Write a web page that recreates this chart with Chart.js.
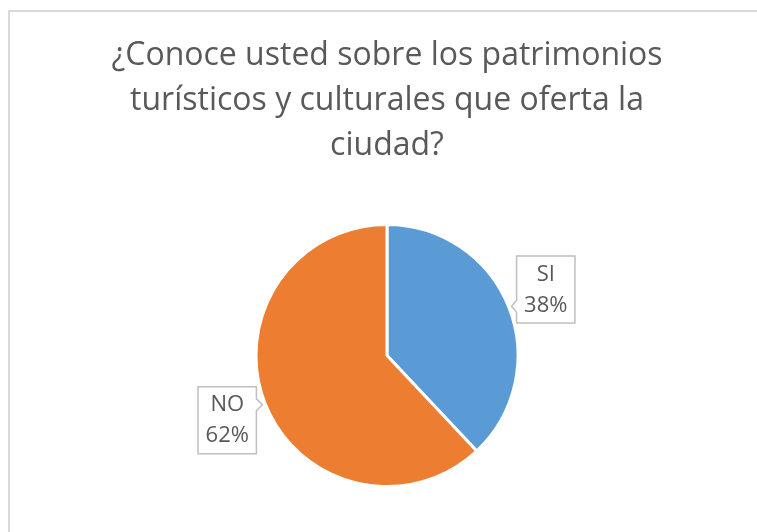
<!DOCTYPE html>
<html>
<head>
<meta charset="utf-8">
<script src="https://cdn.jsdelivr.net/npm/chart.js@4/dist/chart.umd.min.js"></script>
<style>
  html, body { margin: 0; padding: 0; background: #fff; overflow: hidden; }
  #frame {
    position: absolute; left: 8px; top: 10px;
    width: 800px; height: 600px;
    border-left: 2px solid #d9d9d9; border-top: 2px solid #d9d9d9;
  }
  #chart { display: block; }
</style>
</head>
<body>
<div id="frame"><canvas id="chart" width="754" height="520"></canvas></div>
<script>
// chart data
const titleLines = ['¿Conoce usted sobre los patrimonios', 'turísticos y culturales que oferta la', 'ciudad?'];
const categories = ['SI', 'NO'];
const values = [38, 62];
const sliceColors = ['#5B9BD5', '#ED7D31'];

const textGray = '#595959';
const labelFont = '22px "Open Sans"';

// Excel-like callout boxes next to each slice
const calloutPlugin = {
  id: 'callouts',
  afterDatasetsDraw(chart) {
    const ctx = chart.ctx;
    const meta = chart.getDatasetMeta(0);
    const total = values.reduce((a, b) => a + b, 0);
    ctx.save();
    ctx.font = labelFont;
    meta.data.forEach((arc, i) => {
      const p = arc.getProps(['x', 'y', 'startAngle', 'endAngle', 'outerRadius'], true);
      const mid = (p.startAngle + p.endAngle) / 2;
      const tipX = p.x + (p.outerRadius + 3) * Math.cos(mid);
      const tipY = p.y + (p.outerRadius + 3) * Math.sin(mid);
      const lines = [categories[i], Math.round(values[i] / total * 100) + '%'];
      const lineH = 31;
      const w = Math.max(...lines.map(t => ctx.measureText(t).width)) + 15;
      const h = lines.length * lineH + 5;
      const right = Math.cos(mid) >= 0;
      const left = right ? tipX + 5 : tipX - 6 - w;
      const top = right ? tipY - 0.75 * h : tipY - 0.27 * h;
      const edgeX = right ? left : left + w;
      const nb = 6; // notch half height

      ctx.beginPath();
      ctx.moveTo(left, top);
      ctx.lineTo(left + w, top);
      if (!right) {
        ctx.lineTo(edgeX, tipY - nb);
        ctx.lineTo(tipX, tipY);
        ctx.lineTo(edgeX, tipY + nb);
      }
      ctx.lineTo(left + w, top + h);
      ctx.lineTo(left, top + h);
      if (right) {
        ctx.lineTo(edgeX, tipY + nb);
        ctx.lineTo(tipX, tipY);
        ctx.lineTo(edgeX, tipY - nb);
      }
      ctx.closePath();
      ctx.fillStyle = '#ffffff';
      ctx.fill();
      ctx.lineWidth = 1.5;
      ctx.strokeStyle = '#bfbfbf';
      ctx.stroke();

      ctx.fillStyle = textGray;
      ctx.textAlign = 'center';
      ctx.textBaseline = 'middle';
      lines.forEach((t, j) => {
        ctx.fillText(t, left + w / 2, top + 3 + lineH / 2 + j * lineH);
      });
    });
    ctx.restore();
  }
};

new Chart(document.getElementById('chart'), {
  type: 'pie',
  data: {
    labels: categories,
    datasets: [{
      data: values,
      backgroundColor: sliceColors,
      borderColor: '#ffffff',
      borderWidth: 3
    }]
  },
  options: {
    responsive: false,
    animation: false,
    layout: { padding: { left: 0, right: 0, top: 0, bottom: 44 } },
    plugins: {
      legend: { display: false },
      tooltip: { enabled: false },
      title: {
        display: true,
        text: titleLines,
        color: textGray,
        font: { family: '"Open Sans"', size: 32, weight: 'normal', lineHeight: 1.406 },
        padding: { top: 21, bottom: 55 }
      }
    }
  },
  plugins: [calloutPlugin]
});
</script>
</body>
</html>
